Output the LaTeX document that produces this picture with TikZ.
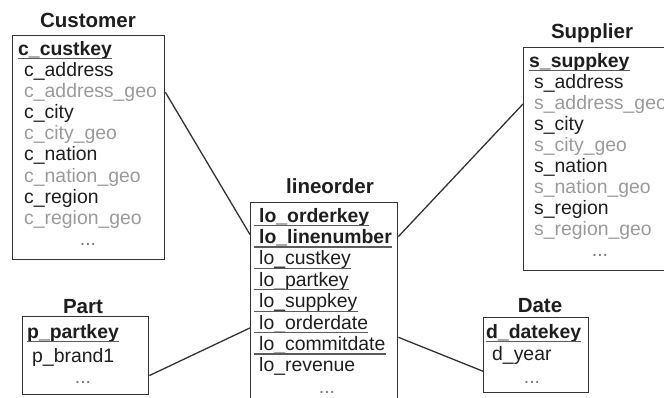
\documentclass[tikz,border=0pt]{standalone}
\usepackage{fontspec}
\setmainfont{Liberation Sans}
\usetikzlibrary{calc}
\definecolor{geogray}{HTML}{9A9A9A}
\definecolor{ink}{HTML}{1E1E1E}
\definecolor{edge}{HTML}{333333}
\newcommand\fldfont{\fontsize{19.4}{22}\selectfont}
\newcommand\ttlfont{\fontsize{20.5}{23}\selectfont\bfseries}
\begin{document}
\begin{tikzpicture}[x=1pt,y=-1pt,
  fld/.style={anchor=base west, inner sep=0pt, text=ink, font=\fldfont},
  keyfld/.style={fld, font=\fldfont\bfseries},
  geo/.style={fld, text=geogray},
  dots/.style={anchor=base, inner sep=0pt, text=geogray!80!black, font=\fldfont},
  ttl/.style={anchor=base, inner sep=0pt, text=ink, font=\ttlfont},
  tbl/.style={draw=edge, line width=1.4pt, anchor=north west, inner sep=0pt},
  ul/.style={draw=edge!80, line width=1.2pt},
  link/.style={draw=edge, line width=1.3pt}]
\clip (0,0) rectangle (664,397);
\useasboundingbox (0,0) rectangle (664,397);

% ---------- Customer ----------
\node[ttl] (custT) at (88,27) {Customer};
\node[tbl, minimum width=152pt, minimum height=224pt] (cust) at (12,35) {};
\node[keyfld] (ck) at (18,55) {c\_custkey};
\node[fld] (ca) at (24,76.2) {c\_address};
\node[geo] (cag) at (24,97.3) {c\_address\_geo};
\node[fld] (cc) at (24,118.5) {c\_city};
\node[geo] (ccg) at (24,139.7) {c\_city\_geo};
\node[fld] (cn) at (24,160.8) {c\_nation};
\node[geo] (cng) at (24,182) {c\_nation\_geo};
\node[fld] (cr) at (24,203.2) {c\_region};
\node[geo] (crg) at (24,224.3) {c\_region\_geo};
\node[dots] (cd) at (88,245.5) {...};
\draw[ul] ([yshift=-3.5pt]ck.base west) -- ([yshift=-3.5pt]ck.base east);

% ---------- Supplier ----------
\node[ttl] (supT) at (592,38) {Supplier};
\node[tbl, minimum width=160pt, minimum height=223pt] (sup) at (523,47) {};
\node[keyfld] (sk) at (529,67) {s\_suppkey};
\node[fld] (sa) at (534,88) {s\_address};
\node[geo] (sag) at (534,109) {s\_address\_geo};
\node[fld] (sc) at (534,130) {s\_city};
\node[geo] (scg) at (534,151) {s\_city\_geo};
\node[fld] (sn) at (534,172) {s\_nation};
\node[geo] (sng) at (534,193) {s\_nation\_geo};
\node[fld] (sr) at (534,214) {s\_region};
\node[geo] (srg) at (534,235) {s\_region\_geo};
\node[dots] (sd) at (600,256) {...};
\draw[ul] ([yshift=-3.5pt]sk.base west) -- ([yshift=-3.5pt]sk.base east);

% ---------- lineorder ----------
\node[ttl] (loT) at (330,193) {lineorder};
\node[tbl, minimum width=147pt, minimum height=220pt] (lo) at (250,202) {};
\node[keyfld] (lok) at (259,222) {lo\_orderkey};
\node[keyfld] (lln) at (259,243.4) {lo\_linenumber};
\node[fld] (lck) at (259,264.8) {lo\_custkey};
\node[fld] (lpk) at (259,286.2) {lo\_partkey};
\node[fld] (lsk) at (259,307.6) {lo\_suppkey};
\node[fld] (lod) at (259,329) {lo\_orderdate};
\node[fld] (lcd) at (259,350.4) {lo\_commitdate};
\node[fld] (lrv) at (259,371.8) {lo\_revenue};
\node[dots] (ldt) at (327,393.2) {...};
\foreach \n in {lok,lln,lck,lpk,lsk,lod,lcd}
  \draw[ul] ([xshift=-5pt,yshift=-3.5pt]\n.base west) -- ([yshift=-3.5pt]\n.base east);

% ---------- Part ----------
\node[ttl] (partT) at (83,313.5) {Part};
\node[tbl, minimum width=126pt, minimum height=78pt] (part) at (22,316) {};
\node[keyfld] (pk) at (27,338) {p\_partkey};
\node[fld] (pb) at (32,362) {p\_brand1};
\node[dots] (pd) at (83,383) {...};
\draw[ul] ([yshift=-3.5pt]pk.base west) -- ([yshift=-3.5pt]pk.base east);

% ---------- Date ----------
\node[ttl] (dateT) at (540,312) {Date};
\node[tbl, minimum width=105pt, minimum height=75pt] (date) at (483,317) {};
\node[keyfld] (dk) at (486,338) {d\_datekey};
\node[fld] (dy) at (492,360) {d\_year};
\node[dots] (dd) at (532,383) {...};
\draw[ul] ([yshift=-3.5pt]dk.base west) -- ([yshift=-3.5pt]dk.base east);

% ---------- connectors ----------
\coordinate (pe) at ($(part.south east)!0.25!(part.north east)$);
\coordinate (de) at ($(date.south west)!0.29!(date.north west)$);
\draw[link] (cust.east |- cag) -- ($(lo.west |- lln)+(0,-3)$);
\draw[link] (sup.west |- sag) -- ($(lo.east |- lln)+(0,-1)$);
\draw[link] (pe) -- ($(lo.west |- lod)+(0,4)$);
\draw[link] ($(lo.east |- lcd)+(0,-8)$) -- (de);
\end{tikzpicture}
\end{document}
